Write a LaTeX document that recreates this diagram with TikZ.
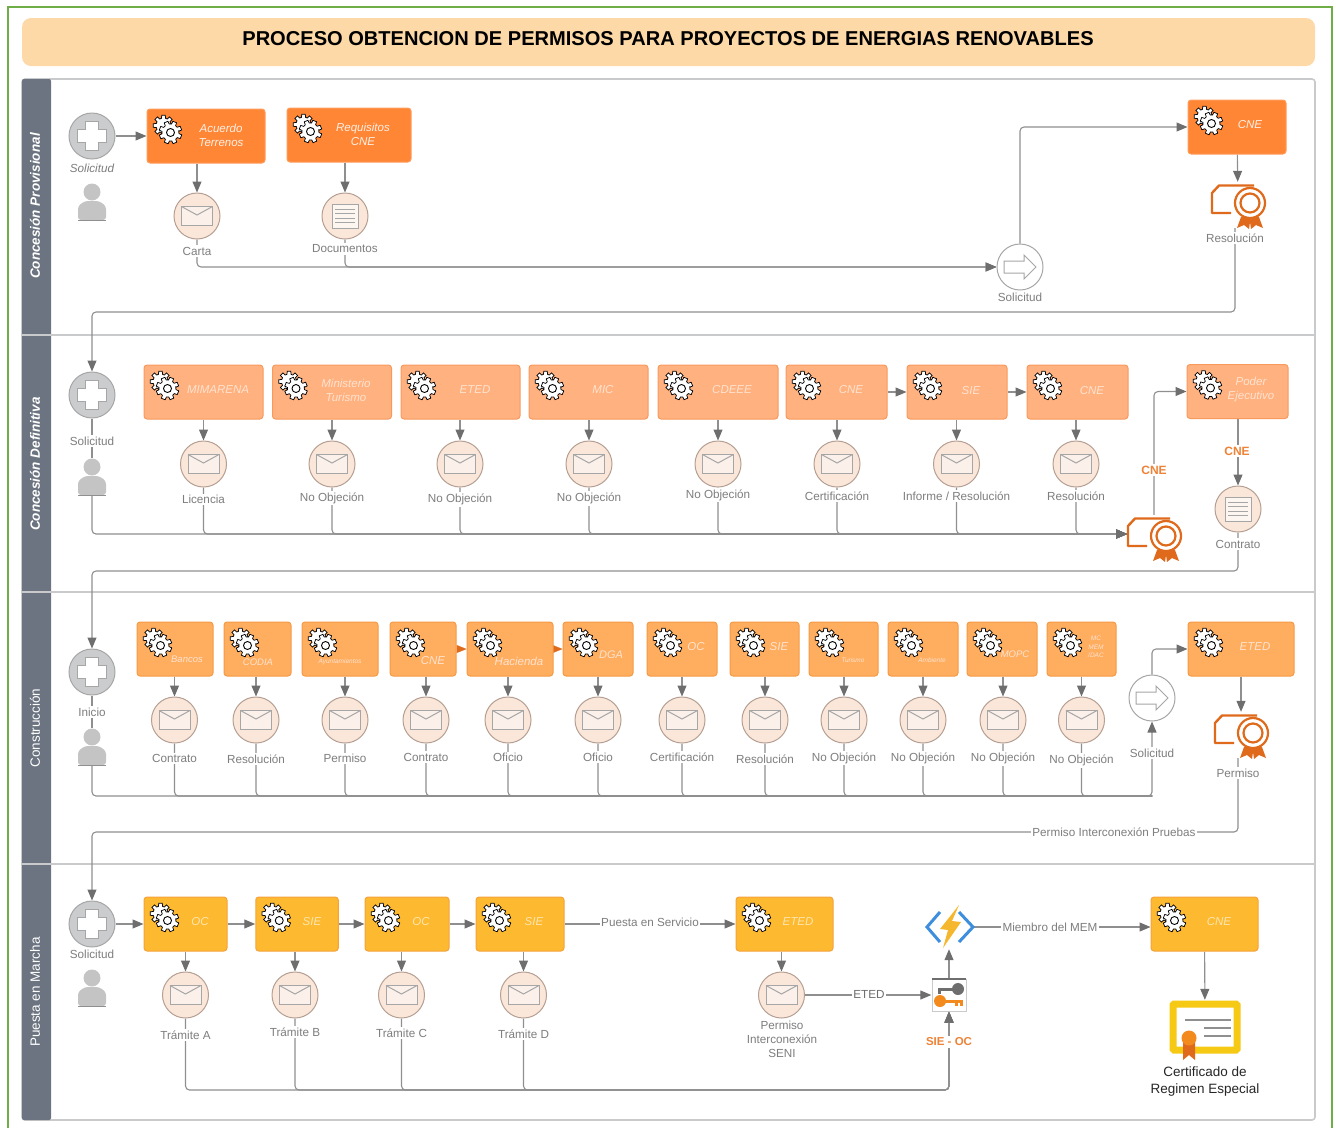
\documentclass[tikz,border=0pt]{standalone}
\usepackage{fontspec}
\setmainfont{Liberation Sans}
\usepackage{tikz}
\usetikzlibrary{arrows.meta, backgrounds}

\definecolor{framegreen}{HTML}{6FAD47}
\definecolor{titlefill}{HTML}{FCD9A6}
\definecolor{poolline}{HTML}{C9CACB}
\definecolor{stripgray}{HTML}{6B7480}
\definecolor{flowgray}{HTML}{8F8F8F}
\definecolor{tipgray}{HTML}{6E6E6E}
\definecolor{icongray}{HTML}{A6A6A6}
\definecolor{labelgray}{HTML}{7E7E7E}
\definecolor{taskwhite}{HTML}{FFE3D0}
\definecolor{paleA}{HTML}{FFF0E6}
\definecolor{paleD}{HTML}{FFE6B0}
\definecolor{orangeA}{HTML}{FF8635}
\definecolor{orangeB}{HTML}{FFB17F}
\definecolor{orangeC}{HTML}{FFAD5E}
\definecolor{amberD}{HTML}{FDB92F}
\definecolor{edgeA}{HTML}{FF9C5C}
\definecolor{edgeB}{HTML}{F89A5E}
\definecolor{edgeC}{HTML}{F59A45}
\definecolor{edgeD}{HTML}{F5A23C}
\definecolor{certorange}{HTML}{DF6A1C}
\definecolor{certyellow}{HTML}{F6C915}
\definecolor{labelorange}{HTML}{EE8236}
\definecolor{badgeorange}{HTML}{F28A1E}
\definecolor{boltblue}{HTML}{3E8EDE}
\definecolor{boltyellow}{HTML}{F5B72E}
\definecolor{msgfill}{HTML}{FBE7DA}
\definecolor{msgedge}{HTML}{B59F92}
\definecolor{startfill}{HTML}{CBCCCE}
\definecolor{persongray}{HTML}{C4C4C4}

\tikzset{
	gearicon/.pic={
		\begin{scope}[shift={(-4,-4)}, sharp corners]
			\draw[black, fill=white, line width=0.75pt] (-15:7.5) \foreach \a in {0,45,...,315} { -- (\a-15:7.5) -- (\a-10:10.5) -- (\a+10:10.5) -- (\a+15:7.5) } -- cycle;
		\end{scope}
		\begin{scope}[shift={(3,3)}, sharp corners]
			\draw[black, fill=white, line width=0.75pt] (-15:8.5) \foreach \a in {22,67,...,337} { -- (\a-15:8.5) -- (\a-10:11.5) -- (\a+10:11.5) -- (\a+15:8.5) } -- cycle;
			\draw[black, fill=white, line width=0.9pt] (0,0) circle (4);
		\end{scope}
	},
	envelopeicon/.pic={
		\draw[icongray, fill=white, fill opacity=0.45, line width=1pt] (-15.5,-9.5) rectangle (15.5,9.5);
		\draw[icongray, line width=1pt] (-15.5,-9.5) -- (0,-1) -- (15.5,-9.5);
	},
	docicon/.pic={
		\draw[icongray, fill=white, fill opacity=0.6, line width=1pt] (-13,-12) rectangle (13,12);
		\foreach \y in {-7,-2.5,2,6.5} {
			\draw[icongray, line width=0.8pt] (-10,\y) -- (10,\y);
		}
	},
	crossicon/.pic={
		\draw[icongray, fill=white, line width=1pt] (-6.5,-14.5) -- (6.5,-14.5) -- (6.5,-6.5) -- (14.5,-6.5) -- (14.5,6.5) -- (6.5,6.5) -- (6.5,14.5) -- (-6.5,14.5) -- (-6.5,6.5) -- (-14.5,6.5) -- (-14.5,-6.5) -- (-6.5,-6.5) -- cycle;
	},
	sendicon/.pic={
		\draw[icongray, fill=white, line width=1pt] (-16,-6) -- (4,-6) -- (4,-12) -- (16,0) -- (4,12) -- (4,6) -- (-16,6) -- cycle;
	},
	personicon/.pic={
		\fill[persongray] (0,-10) circle (8.5);
		\fill[persongray, rounded corners=3pt] (-14,18) -- (-14,4) -- (-7,-1) -- (7,-1) -- (14,4) -- (14,18) -- cycle;
		\draw[flowgray, line width=1pt] (-14,18) -- (14,18);
	},
	certicon/.pic={
		\draw[certorange, line width=2.4pt, line join=round] (-7,8) -- (-26,8) -- (-26,-12) -- (-19,-19.5) -- (16,-19.5);
		\draw[certorange, fill=white, line width=2.2pt] (12,-2) circle (15);
		\draw[certorange, fill=white, line width=2.2pt] (12,-2) circle (9.5);
		\fill[certorange] (3,12) -- (-1,23) -- (6,20) -- (11,24) -- (12,17) -- (13,24) -- (18,20) -- (25,23) -- (21,12) -- cycle;
	},
	bigcerticon/.pic={
		\draw[certyellow, fill=white, line width=7pt, rounded corners=1pt] (-32,-23) rectangle (32,23);
		\draw[flowgray, line width=2pt] (-20,-7) -- (26,-7);
		\draw[flowgray, line width=2pt] (-1,1) -- (26,1);
		\draw[flowgray, line width=2pt] (-1,9) -- (26,9);
		\fill[certorange] (-22,14) -- (-22,33) -- (-16,28) -- (-10,33) -- (-10,14) -- cycle;
		\fill[badgeorange] (-16,11) circle (7.5);
	},
	bolticon/.pic={
		\draw[boltblue, line width=3pt] (-9,-15) -- (-22,0) -- (-9,15);
		\draw[boltblue, line width=3pt] (10,-15) -- (24,0) -- (10,15);
		\fill[boltyellow] (10,-22) -- (-9,2) -- (-1,3) -- (-6,21) -- (12,-5) -- (3,-6) -- cycle;
	},
	keyicon/.pic={
		\draw[poolline, fill=white, line width=0.8pt] (-17,-16) rectangle (17,16);
		\draw[tipgray, line width=1.2pt] (-17,-16) -- (17,-16);
		\fill[tipgray] (9,-6) circle (6);
		\fill[tipgray] (-11,-7.5) rectangle (9,-4);
		\fill[tipgray] (-11,-4) rectangle (-8,-1);
		\fill[badgeorange] (-9,6) circle (6);
		\fill[badgeorange] (-9,4.5) rectangle (14,8);
		\fill[badgeorange] (6,8) rectangle (9,11);
		\fill[badgeorange] (11,8) rectangle (14,11);
	},
	task/.style={rectangle, rounded corners=3pt, inner sep=0pt, minimum height=54pt, line width=1pt,
		path picture={\pic at ([shift={(20.5,20.5)}]path picture bounding box.north west) {gearicon};}},
	tasktext/.style={inner sep=0pt, align=center, text=taskwhite, font=\fontsize{11.5}{14}\selectfont\itshape},
	tasksmall/.style={tasktext, font=\fontsize{9.5}{11}\selectfont\itshape},
	tasktiny/.style={tasktext, font=\fontsize{6.5}{8.5}\selectfont\itshape},
	msg/.style={circle, minimum size=46pt, inner sep=0pt, fill=msgfill, draw=msgedge, line width=1pt,
		path picture={\pic at (path picture bounding box.center) {envelopeicon};}},
	docev/.style={circle, minimum size=46pt, inner sep=0pt, fill=msgfill, draw=msgedge, line width=1pt,
		path picture={\pic at (path picture bounding box.center) {docicon};}},
	startev/.style={circle, minimum size=46pt, inner sep=0pt, fill=startfill, draw=icongray, line width=1pt,
		path picture={\pic at (path picture bounding box.center) {crossicon};}},
	sendev/.style={circle, minimum size=46pt, inner sep=0pt, fill=white, draw=icongray, line width=1pt,
		path picture={\pic at (path picture bounding box.center) {sendicon};}},
	personbox/.style={inner sep=0pt, minimum width=30pt, minimum height=38pt,
		path picture={\pic at (path picture bounding box.center) {personicon};}},
	certbox/.style={inner sep=0pt, minimum width=56pt, minimum height=46pt,
		path picture={\pic at (path picture bounding box.center) {certicon};}},
	msglabel/.style={fill=white, inner sep=1.5pt, align=center, text=labelgray, font=\fontsize{11.7}{14}\selectfont},
	orangelabel/.style={fill=white, inner sep=2pt, text=labelorange, font=\fontsize{12}{14}\selectfont\bfseries},
	lanelabel/.style={rotate=90, text=white, inner sep=0pt},
	link/.style={draw=flowgray, line width=1.1pt, rounded corners=4pt},
	flow/.style={link, -{Triangle[length=11pt, width=9pt, color=tipgray]}},
	orangetip/.style={line width=0.1pt, draw=certorange, -{Triangle[length=10pt, width=8pt, color=certorange]}}
}

\begin{document}
\begin{tikzpicture}[x=1pt, y=-1pt]
	\useasboundingbox (0,0) rectangle (1336,1128);

	% title
	\node[rectangle, rounded corners=9pt, fill=titlefill, minimum width=1293pt, minimum height=48pt, inner sep=0pt] (banner) at (668.5,42) {};
	\node[inner sep=0pt, font=\fontsize{20.08}{24}\selectfont\bfseries] (title) at (668,39) {PROCESO OBTENCION DE PERMISOS PARA PROYECTOS DE ENERGIAS RENOVABLES};

	% lane 1
	\node[startev] (start1) at (92,136) {};
	\node[msglabel, font=\fontsize{11.7}{14}\selectfont\itshape] (ls1) at (92,168) {Solicitud};
	\node[personbox] (user1) at (92,202) {};
	\node[task, fill=orangeA, draw=edgeA, minimum width=118pt] (t11) at (206,136) {};
	\node[tasktext, text=paleA] (x11) at (221,135) {Acuerdo\\Terrenos};
	\node[task, fill=orangeA, draw=edgeA, minimum width=124pt] (t12) at (349,135) {};
	\node[tasktext, text=paleA] (x12) at (363,134) {Requisitos\\CNE};
	\node[msg] (m11) at (197,216) {};
	\node[msglabel] (l11) at (197,251) {Carta};
	\node[docev] (m12) at (345,216) {};
	\node[msglabel] (l12) at (345,249) {Documentos};
	\node[sendev] (send1) at (1020,267) {};
	\node[msglabel] (lsend1) at (1020,297) {Solicitud};
	\node[task, fill=orangeA, draw=edgeA, minimum width=98pt] (t13) at (1237,127) {};
	\node[tasktext, text=paleA] (x13) at (1250,125) {CNE};
	\node[certbox] (cert1) at (1238,205) {};
	\node[msglabel] (l13) at (1235,238) {Resolución};
	\coordinate (turn12) at (92,312);

	% lane 2
	\node[startev] (start2) at (92,395) {};
	\node[msglabel] (ls2) at (92,441) {Solicitud};
	\node[personbox] (user2) at (92,477) {};
	\node[task, fill=orangeB, draw=edgeB, minimum width=119pt] (t21) at (203.5,392) {};
	\node[tasktext] (x21) at (218,390) {MIMARENA};
	\node[task, fill=orangeB, draw=edgeB, minimum width=119pt] (t22) at (332,392) {};
	\node[tasktext] (x22) at (346,390) {Ministerio\\Turismo};
	\node[task, fill=orangeB, draw=edgeB, minimum width=119pt] (t23) at (460.5,392) {};
	\node[tasktext] (x23) at (475,390) {ETED};
	\node[task, fill=orangeB, draw=edgeB, minimum width=119pt] (t24) at (588.5,392) {};
	\node[tasktext] (x24) at (603,390) {MIC};
	\node[task, fill=orangeB, draw=edgeB, minimum width=120pt] (t25) at (718,392) {};
	\node[tasktext] (x25) at (732,390) {CDEEE};
	\node[task, fill=orangeB, draw=edgeB, minimum width=101pt] (t26) at (836.5,392) {};
	\node[tasktext] (x26) at (851,390) {CNE};
	\node[task, fill=orangeB, draw=edgeB, minimum width=100pt] (t27) at (957,392) {};
	\node[tasktext] (x27) at (971,391) {SIE};
	\node[task, fill=orangeB, draw=edgeB, minimum width=101pt] (t28) at (1077.5,392) {};
	\node[tasktext] (x28) at (1092,391) {CNE};
	\node[task, fill=orangeB, draw=edgeB, minimum width=101pt] (t29) at (1237.5,391.5) {};
	\node[tasktext] (x29) at (1251,390) {Poder\\Ejecutivo};
	\node[msg] (m21) at (203.5,464) {};
	\node[msglabel] (l21) at (203.5,499.5) {Licencia};
	\node[msg] (m22) at (332,464) {};
	\node[msglabel] (l22) at (332,498) {No Objeción};
	\node[msg] (m23) at (460,464) {};
	\node[msglabel] (l23) at (460,499.5) {No Objeción};
	\node[msg] (m24) at (589,464) {};
	\node[msglabel] (l24) at (589,498.5) {No Objeción};
	\node[msg] (m25) at (718,464) {};
	\node[msglabel] (l25) at (718,495) {No Objeción};
	\node[msg] (m26) at (837,464) {};
	\node[msglabel] (l26) at (837,496) {Certificación};
	\node[msg] (m27) at (956.5,464) {};
	\node[msglabel] (l27) at (956.5,496) {Informe / Resolución};
	\node[msg] (m28) at (1076,464) {};
	\node[msglabel] (l28) at (1076,496) {Resolución};
	\node[certbox] (cert2) at (1154,538) {};
	\coordinate (bus2) at (1127,534);
	\node[orangelabel] (cne21) at (1154,470) {CNE};
	\node[orangelabel] (cne22) at (1237,451) {CNE};
	\node[docev] (m29) at (1238,509) {};
	\node[msglabel] (l29) at (1238,544) {Contrato};
	\coordinate (turn23) at (92,571);

	% lane 3
	\node[startev] (start3) at (92,672) {};
	\node[msglabel] (ls3) at (92,712) {Inicio};
	\node[personbox] (user3) at (92,747) {};
	\node[task, fill=orangeC, draw=edgeC, minimum width=76pt] (t31) at (175,649) {};
	\node[tasksmall] (x31) at (187,659) {Bancos};
	\node[task, fill=orangeC, draw=edgeC, minimum width=67pt] (t32) at (257.5,649) {};
	\node[tasksmall] (x32) at (258,662) {CODIA};
	\node[task, fill=orangeC, draw=edgeC, minimum width=76pt] (t33) at (340,649) {};
	\node[tasktiny] (x33) at (340,662) {Ayuntamientos};
	\node[task, fill=orangeC, draw=edgeC, minimum width=66pt] (t34) at (423,649) {};
	\node[tasktext] (x34) at (433,661) {CNE};
	\node[task, fill=orangeC, draw=edgeC, minimum width=86pt] (t35) at (510,649) {};
	\node[tasktext] (x35) at (519,661) {Hacienda};
	\node[task, fill=orangeC, draw=edgeC, minimum width=70pt] (t36) at (598,649) {};
	\node[tasktext, font=\fontsize{11}{14}\selectfont\itshape] (x36) at (611,655) {DGA};
	\node[task, fill=orangeC, draw=edgeC, minimum width=70pt] (t37) at (682,649) {};
	\node[tasktext] (x37) at (696,647) {OC};
	\node[task, fill=orangeC, draw=edgeC, minimum width=69pt] (t38) at (764.5,649) {};
	\node[tasktext] (x38) at (779,647) {SIE};
	\node[task, fill=orangeC, draw=edgeC, minimum width=69pt] (t39) at (843.5,649) {};
	\node[tasktiny] (x39) at (853,660) {Turismo};
	\node[task, fill=orangeC, draw=edgeC, minimum width=70pt] (t310) at (923,649) {};
	\node[tasktiny] (x310) at (932,660) {Ambiente};
	\node[task, fill=orangeC, draw=edgeC, minimum width=70pt] (t311) at (1002,649) {};
	\node[tasksmall] (x311) at (1015,654) {MOPC};
	\node[task, fill=orangeC, draw=edgeC, minimum width=69pt] (t312) at (1081.5,649) {};
	\node[tasktiny] (x312) at (1096,647) {MC\\MEM\\/DAC};
	\node[task, fill=orangeC, draw=edgeC, minimum width=106pt] (t313) at (1241,649) {};
	\node[tasktext] (x313) at (1255,647) {ETED};
	\node[msg] (m31) at (174.5,720) {};
	\node[msglabel] (l31) at (174.5,758.5) {Contrato};
	\node[msg] (m32) at (256,720) {};
	\node[msglabel] (l32) at (256,759) {Resolución};
	\node[msg] (m33) at (345,720) {};
	\node[msglabel] (l33) at (345,758.5) {Permiso};
	\node[msg] (m34) at (426,720) {};
	\node[msglabel] (l34) at (426,757) {Contrato};
	\node[msg] (m35) at (508,720) {};
	\node[msglabel] (l35) at (508,757.5) {Oficio};
	\node[msg] (m36) at (598,720) {};
	\node[msglabel] (l36) at (598,757) {Oficio};
	\node[msg] (m37) at (682,720) {};
	\node[msglabel] (l37) at (682,757) {Certificación};
	\node[msg] (m38) at (765,720) {};
	\node[msglabel] (l38) at (765,759) {Resolución};
	\node[msg] (m39) at (844,720) {};
	\node[msglabel] (l39) at (844,758) {No Objeción};
	\node[msg] (m310) at (923,720) {};
	\node[msglabel] (l310) at (923,758.5) {No Objeción};
	\node[msg] (m311) at (1003,720) {};
	\node[msglabel] (l311) at (1003,758.5) {No Objeción};
	\node[msg] (m312) at (1081.5,720) {};
	\node[msglabel] (l312) at (1081.5,760.5) {No Objeción};
	\node[sendev] (send3) at (1152,698) {};
	\node[msglabel] (lsend3) at (1152,753) {Solicitud};
	\coordinate (bus3) at (1152,796);
	\node[certbox] (cert3) at (1241,735) {};
	\node[msglabel] (l313) at (1238,773) {Permiso};
	\node[msglabel] (pruebas) at (1114,832) {Permiso Interconexión Pruebas};
	\coordinate (turn34) at (92,832);

	% lane 4
	\node[startev] (start4) at (92,924) {};
	\node[msglabel] (ls4) at (92,954) {Solicitud};
	\node[personbox] (user4) at (92,988) {};
	\node[task, fill=amberD, draw=edgeD, minimum width=83pt] (t41) at (185.5,924) {};
	\node[tasktext, text=paleD] (x41) at (200,922) {OC};
	\node[task, fill=amberD, draw=edgeD, minimum width=82.5pt] (t42) at (297,924) {};
	\node[tasktext, text=paleD] (x42) at (312,922) {SIE};
	\node[task, fill=amberD, draw=edgeD, minimum width=84pt] (t43) at (407,924) {};
	\node[tasktext, text=paleD] (x43) at (421,922) {OC};
	\node[task, fill=amberD, draw=edgeD, minimum width=88pt] (t44) at (520,924) {};
	\node[tasktext, text=paleD] (x44) at (534,922) {SIE};
	\node[task, fill=amberD, draw=edgeD, minimum width=97pt] (t45) at (784.5,924) {};
	\node[tasktext, text=paleD] (x45) at (798,922) {ETED};
	\node[task, fill=amberD, draw=edgeD, minimum width=107pt] (t46) at (1204.5,924) {};
	\node[tasktext, text=paleD] (x46) at (1219,922) {CNE};
	\node[msg] (m41) at (185.5,995) {};
	\node[msglabel] (l41) at (185.5,1035) {Trámite A};
	\node[msg] (m42) at (295,995) {};
	\node[msglabel] (l42) at (295,1032) {Trámite B};
	\node[msg] (m43) at (401.5,995) {};
	\node[msglabel] (l43) at (401.5,1033) {Trámite C};
	\node[msg] (m44) at (523.5,995) {};
	\node[msglabel] (l44) at (523.5,1034) {Trámite D};
	\node[msg] (m45) at (781.5,995) {};
	\node[msglabel] (l45) at (782,1039) {Permiso\\Interconexión\\SENI};
	\node[msglabel] (servicio) at (650,922) {Puesta en Servicio};
	\node[inner sep=0pt, minimum width=35pt, minimum height=33pt] (key) at (949,995) {};
	\pic at (key) {keyicon};
	\node[inner sep=0pt, minimum width=48pt, minimum height=44pt] (bolt) at (949,927) {};
	\pic at (bolt) {bolticon};
	\node[msglabel, text=tipgray] (eted4) at (869,994) {ETED};
	\node[orangelabel, font=\fontsize{11.5}{14}\selectfont\bfseries] (sieoc) at (949,1042) {SIE - OC};
	\node[msglabel] (miembro) at (1050,927) {Miembro del MEM};
	\node[inner sep=0pt, minimum width=72pt, minimum height=54pt] (diploma) at (1205,1027) {};
	\pic at (diploma) {bigcerticon};
	\node[msglabel, text=black!85, font=\fontsize{13.5}{16.5}\selectfont] (l46) at (1205,1081.5) {Certificado de\\Regimen Especial};
	\coordinate (bus4) at (949,1090);

	\begin{scope}[on background layer]
		\draw[framegreen, line width=1.2pt] (8,1128) -- (8,7) -- (1332,7) -- (1332,1128);
		\draw[poolline, line width=1.6pt, rounded corners=3pt] (22,79) rectangle (1315,1120);
		\fill[stripgray, rounded corners=2pt] (22,79) rectangle (51,1120);
		\draw[poolline, line width=1.6pt] (22,335) -- (1315,335);
		\draw[poolline, line width=1.6pt] (22,592) -- (1315,592);
		\draw[poolline, line width=1.6pt] (22,864) -- (1315,864);

		% lane 1 connectors
		\draw[flow] (start1) -- (t11);
		\draw[flow] (t11.south -| m11) -- (m11);
		\draw[flow] (t12.south -| m12) -- (m12);
		\draw[flow] (m11) |- (send1);
		\draw[flow] (m12) |- (send1);
		\draw[flow] (send1) |- (t13);
		\draw[flow] (t13) -- (cert1);
		\draw[flow] (cert1.south -| l13) |- (turn12) -- (start2);

		% lane 2 connectors
		\draw[link] (start2) -- (user2);
		\draw[flow] (user2) |- (bus2);
		\draw[flow] (t21) -- (m21);
		\draw[flow] (t22) -- (m22);
		\draw[flow] (t23.south -| m23) -- (m23);
		\draw[flow] (t24.south -| m24) -- (m24);
		\draw[flow] (t25) -- (m25);
		\draw[flow] (t26.south -| m26) -- (m26);
		\draw[flow] (t27.south -| m27) -- (m27);
		\draw[flow] (t28.south -| m28) -- (m28);
		\draw[flow] (m21) |- (bus2);
		\draw[flow] (m22) |- (bus2);
		\draw[flow] (m23) |- (bus2);
		\draw[flow] (m24) |- (bus2);
		\draw[flow] (m25) |- (bus2);
		\draw[flow] (m26) |- (bus2);
		\draw[flow] (m27) |- (bus2);
		\draw[flow] (m28) |- (bus2);
		\draw[flow] (t26) -- (t27);
		\draw[flow] (t27) -- (t28);
		\draw[flow] (cert2) |- (t29);
		\draw[flow] (t29.south -| m29) -- (m29);
		\draw[flow] (m29) |- (turn23) -- (start3);

		% lane 3 connectors
		\draw[link] (start3) -- (user3);
		\draw[flow] (t31.south -| m31) -- (m31);
		\draw[flow] (t32.south -| m32) -- (m32);
		\draw[flow] (t33.south -| m33) -- (m33);
		\draw[flow] (t34.south -| m34) -- (m34);
		\draw[flow] (t35.south -| m35) -- (m35);
		\draw[flow] (t36.south -| m36) -- (m36);
		\draw[flow] (t37.south -| m37) -- (m37);
		\draw[flow] (t38.south -| m38) -- (m38);
		\draw[flow] (t39.south -| m39) -- (m39);
		\draw[flow] (t310.south -| m310) -- (m310);
		\draw[flow] (t311.south -| m311) -- (m311);
		\draw[flow] (t312.south -| m312) -- (m312);
		\draw[orangetip] (t34) -- (t35);
		\draw[orangetip] (t35) -- (t36);
		\draw[flow] (user3) |- (bus3) -- (send3);
		\draw[link] (m31) |- (bus3);
		\draw[link] (m32) |- (bus3);
		\draw[link] (m33) |- (bus3);
		\draw[link] (m34) |- (bus3);
		\draw[link] (m35) |- (bus3);
		\draw[link] (m36) |- (bus3);
		\draw[link] (m37) |- (bus3);
		\draw[link] (m38) |- (bus3);
		\draw[link] (m39) |- (bus3);
		\draw[link] (m310) |- (bus3);
		\draw[link] (m311) |- (bus3);
		\draw[link] (m312) |- (bus3);
		\draw[flow] (send3) |- (t313);
		\draw[flow] (t313) -- (cert3);
		\draw[flow] (cert3.south -| l313) |- (turn34) -- (start4);

		% lane 4 connectors
		\draw[flow] (start4) -- (t41);
		\draw[flow] (t41) -- (t42);
		\draw[flow] (t42) -- (t43);
		\draw[flow] (t43) -- (t44);
		\draw[flow] (t44) -- (t45);
		\draw[flow] (t41) -- (m41);
		\draw[flow] (t42.south -| m42) -- (m42);
		\draw[flow] (t43.south -| m43) -- (m43);
		\draw[flow] (t44.south -| m44) -- (m44);
		\draw[flow] (t45.south -| m45) -- (m45);
		\draw[flow] (m41) |- (bus4) -- (key);
		\draw[flow] (m42) |- (bus4) -- (key);
		\draw[flow] (m43) |- (bus4) -- (key);
		\draw[flow] (m44) |- (bus4) -- (key);
		\draw[flow] (m45) -- (key);
		\draw[flow] (key) -- (bolt);
		\draw[flow] (bolt) -- (t46.west |- bolt);
		\draw[flow] (t46) -- (diploma);
	\end{scope}

	% lane titles
	\node[lanelabel, font=\fontsize{13.5}{15}\selectfont\bfseries\itshape] (lane1) at (35,206) {Concesión Provisional};
	\node[lanelabel, font=\fontsize{13.5}{15}\selectfont\bfseries\itshape] (lane2) at (35,464) {Concesión Definitiva};
	\node[lanelabel, font=\fontsize{13.5}{15}\selectfont] (lane3) at (35,728) {Construcción};
	\node[lanelabel, font=\fontsize{13.5}{15}\selectfont] (lane4) at (35,992) {Puesta en Marcha};
\end{tikzpicture}
\end{document}
